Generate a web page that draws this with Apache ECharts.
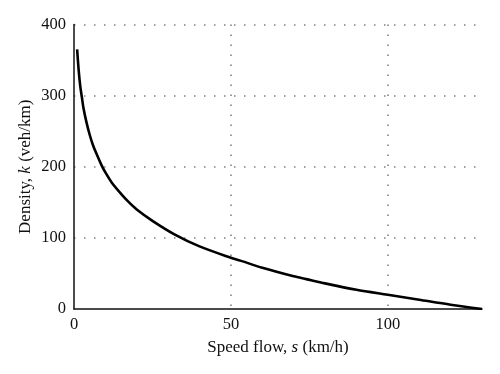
<!DOCTYPE html>
<html>
<head>
<meta charset="utf-8">
<script src="https://cdn.jsdelivr.net/npm/echarts@6/dist/echarts.min.js"></script>
<style>html,body{margin:0;padding:0;background:#fff}#c{width:500px;height:374px}</style>
</head>
<body>
<div id="c"></div>
<script>
const speed = [1, 1.5, 2, 2.5, 3, 4, 5, 6, 7, 8.8, 10, 12, 15, 17.3, 20, 25, 32, 40, 50, 53, 60, 70, 74, 80, 90, 100, 110, 120, 130];
const density = [365, 335, 313, 298, 283, 262, 245, 231, 220, 202, 192, 178, 162, 151, 140, 124, 105, 88, 72, 68, 58, 46, 42, 36, 27, 20, 13, 6, 0];
const xTicks = [0, 50, 100];
const yTicks = [0, 100, 200, 300, 400];

const font = 'Liberation Serif';
const chart = echarts.init(document.getElementById('c'), null, {renderer: 'canvas'});
const gridStyle = {color: '#808080', width: 1.6, type: [1.5, 8.5]};
chart.setOption({
  animation: false,
  grid: {left: 74, right: 18, top: 24.5, bottom: 65},
  xAxis: {
    type: 'value', min: 0, max: 130, interval: 50,
    name: '{n|Speed flow, }{i|s}{n| (km/h)}',
    nameLocation: 'middle', nameGap: 30, nameMoveOverlap: false,
    nameTextStyle: {rich: {
      n: {fontFamily: font, fontSize: 17, color: '#111'},
      i: {fontFamily: font, fontSize: 17, color: '#111', fontStyle: 'italic'}
    }},
    axisLine: {show: true, onZero: false, lineStyle: {color: '#111', width: 1.5}},
    axisTick: {show: false},
    axisLabel: {fontFamily: font, fontSize: 16.5, color: '#111', margin: 7, showMaxLabel: false,
      formatter: v => xTicks.includes(v) ? String(v) : ''},
    splitLine: {show: true, showMinLine: false, showMaxLine: false, lineStyle: gridStyle}
  },
  yAxis: {
    type: 'value', min: 0, max: 400, interval: 100,
    name: '{n|Density, }{i|k}{n| (veh/km)}',
    nameLocation: 'middle', nameGap: 40, nameRotate: 90, nameMoveOverlap: false,
    nameTextStyle: {rich: {
      n: {fontFamily: font, fontSize: 17, color: '#111'},
      i: {fontFamily: font, fontSize: 17, color: '#111', fontStyle: 'italic'}
    }},
    axisLine: {show: true, onZero: false, lineStyle: {color: '#111', width: 1.5}},
    axisTick: {show: false},
    axisLabel: {fontFamily: font, fontSize: 16.5, color: '#111', margin: 8,
      formatter: v => yTicks.includes(v) ? String(v) : ''},
    splitLine: {show: true, showMinLine: false, lineStyle: gridStyle}
  },
  series: [{
    type: 'line',
    data: speed.map((s, i) => [s, density[i]]),
    smooth: 0.3,
    showSymbol: false,
    lineStyle: {color: '#000', width: 2.6}
  }]
});
</script>
</body>
</html>
